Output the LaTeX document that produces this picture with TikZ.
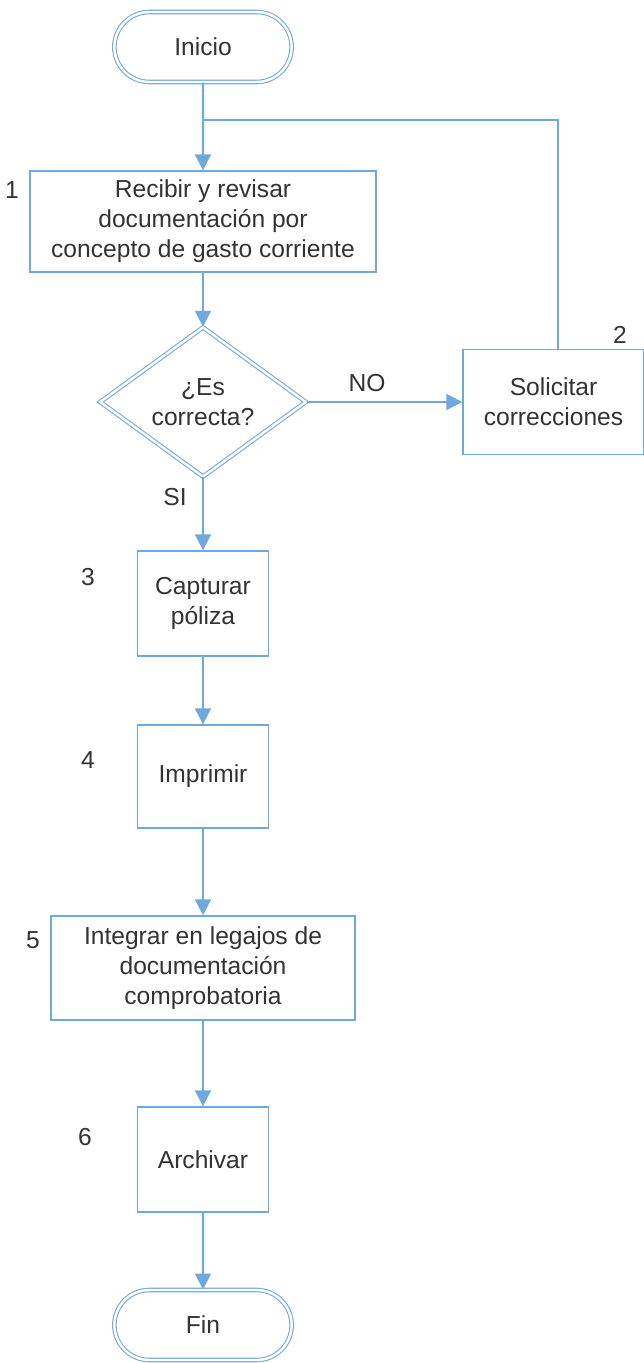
\documentclass[tikz,border=0pt]{standalone}
\usepackage{fontspec}
\setmainfont{Liberation Sans}
\usetikzlibrary{shapes.misc,shapes.geometric,arrows.meta}
\definecolor{flujo}{HTML}{6FA8DC}
\definecolor{texto}{HTML}{333333}
\begin{document}
\begin{tikzpicture}[
    font=\fontsize{14}{17}\selectfont, text=texto,
    inicio/.style={rounded rectangle,draw=flujo,double=white,double distance=1.4pt,line width=0.6pt,minimum width=3.78cm,minimum height=1.4cm},
    paso/.style={rectangle,draw=flujo,line width=0.8pt,align=center,inner sep=2pt},
    decision/.style={diamond,draw=flujo,double=white,double distance=1.4pt,line width=0.6pt,minimum width=4.12cm,minimum height=2.56cm,inner sep=0pt,align=center},
    num/.style={inner sep=0pt},
    flecha/.style={draw=flujo,line width=1.2pt,-{Triangle[length=9pt,width=9pt]}},
    linea/.style={draw=flujo,line width=1.2pt}]
        \useasboundingbox (0,0) rectangle (12.88,-27.26);
        %\draw [very thin, green]  (0,0) grid (13,-27);
        \node at (4.06,-0.94) [inicio] (ini) {Inicio};
        \node at (4.06,-4.43) [paso,minimum width=6.92cm,minimum height=2.02cm] (p1) {Recibir y revisar\\documentación por\\concepto de gasto corriente};
        \node at (4.06,-8.04) [decision] (d1) {¿Es\\correcta?};
        \node at (11.07,-8.04) [paso,minimum width=3.62cm,minimum height=2.1cm] (p2) {Solicitar\\correcciones};
        \node at (4.06,-12.07) [paso,minimum width=2.62cm,minimum height=2.1cm] (p3) {Capturar\\póliza};
        \node at (4.06,-15.53) [paso,minimum width=2.62cm,minimum height=2.06cm] (p4) {Imprimir};
        \node at (4.06,-19.36) [paso,minimum width=6.08cm,minimum height=2.08cm] (p5) {Integrar en legajos de\\documentación\\comprobatoria};
        \node at (4.06,-23.19) [paso,minimum width=2.62cm,minimum height=2.1cm] (p6) {Archivar};
        \node at (4.06,-26.5) [inicio] (fin) {Fin};

        \node at (0.24,-3.8) [num] (n1) {1};
        \node at (12.4,-6.7) [num] (n2) {2};
        \node at (1.76,-11.54) [num] (n3) {3};
        \node at (1.76,-15.2) [num] (n4) {4};
        \node at (0.66,-18.8) [num] (n5) {5};
        \node at (1.7,-22.74) [num] (n6) {6};
        \node at (7.34,-7.66) [num] (no) {NO};
        \node at (3.5,-9.94) [num] (si) {SI};

        \coordinate (j) at (4.06,-2.4);
        \coordinate (r) at (11.16,-2.4);
        \draw [flecha] (ini) -- (p1);
        \draw [linea] (p2.north -| r) -- (r) -- (j);
        \draw [flecha] (p1) -- (d1);
        \draw [flecha] (d1) -- (p2);
        \draw [flecha] (d1) -- (p3);
        \draw [flecha] (p3) -- (p4);
        \draw [flecha] (p4) -- (p5);
        \draw [flecha] (p5) -- (p6);
        \draw [flecha] (p6) -- (fin);
    \end{tikzpicture}
\end{document}
